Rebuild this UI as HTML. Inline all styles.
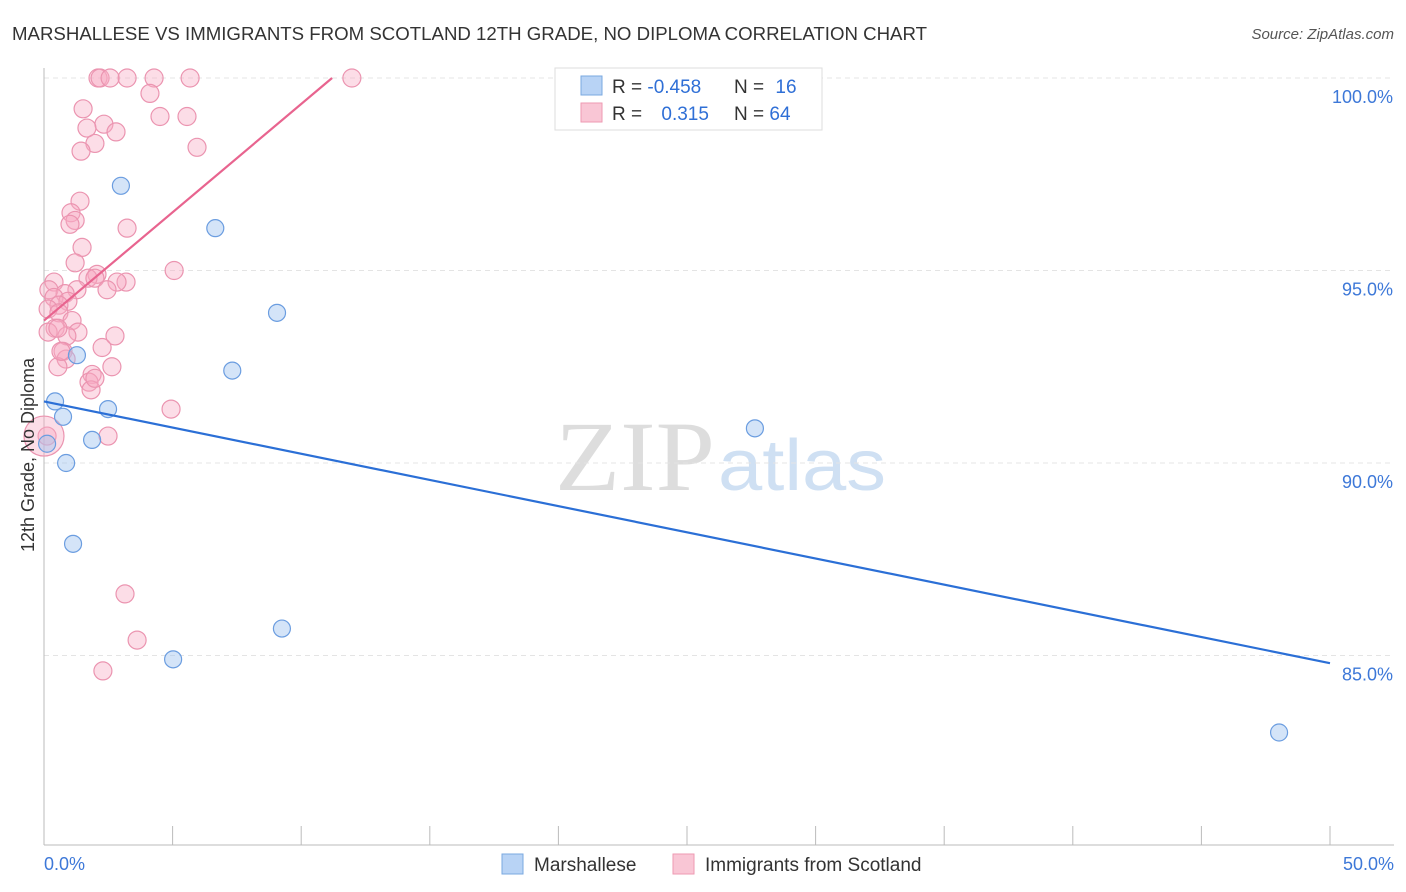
<!DOCTYPE html>
<html><head><meta charset="utf-8">
<style>
body{margin:0;background:#fff;font-family:"Liberation Sans",sans-serif;}
svg{display:block}
</style></head>
<body>
<svg id="c" width="1406" height="892">
<text x="12" y="40" font-size="18.5" fill="#333" textLength="915" lengthAdjust="spacingAndGlyphs">MARSHALLESE VS IMMIGRANTS FROM SCOTLAND 12TH GRADE, NO DIPLOMA CORRELATION CHART</text>
<text x="1394" y="39" font-size="15" fill="#555" font-style="italic" text-anchor="end">Source: ZipAtlas.com</text>
<g>
<text x="555" y="490" font-size="100" fill="#ddd" font-family="Liberation Serif" textLength="160" lengthAdjust="spacingAndGlyphs">ZIP</text>
<text x="718" y="490" font-size="72" fill="#cfe0f3" textLength="168" lengthAdjust="spacingAndGlyphs">atlas</text>
</g>
<g id="grid"></g><g id="axes"></g><g id="pts"></g><g id="lines"></g>
<text x="34" y="455" font-size="18" fill="#333" text-anchor="middle" transform="rotate(-90 34 455)">12th Grade, No Diploma</text>
<g>
<rect x="555" y="68" width="267" height="62" fill="#fff" stroke="#ddd"/>
<rect x="581" y="76" width="21" height="19" fill="#b8d3f5" stroke="#7aa8e0"/>
<rect x="581" y="103" width="21" height="19" fill="#f9c6d5" stroke="#ee9ab2"/>
<text x="612" y="93" font-size="19" fill="#333">R = <tspan fill="#2f6fd6">-0.458</tspan></text>
<text x="734" y="93" font-size="19" fill="#333">N = <tspan fill="#2f6fd6" dx="6">16</tspan></text>
<text x="612" y="120" font-size="19" fill="#333">R = <tspan fill="#2f6fd6" dx="14">0.315</tspan></text>
<text x="734" y="120" font-size="19" fill="#333">N = <tspan fill="#2f6fd6">64</tspan></text>
</g>
<g>
<rect x="502" y="854" width="21" height="20" fill="#b8d3f5" stroke="#7aa8e0"/>
<text x="534" y="871" font-size="19" fill="#333">Marshallese</text>
<rect x="673" y="854" width="21" height="20" fill="#f9c6d5" stroke="#ee9ab2"/>
<text x="705" y="871" font-size="19" fill="#333">Immigrants from Scotland</text>
</g>
</svg>
<script>
const yTicks=[100,95,90,85];
const xTickLabels=["0.0%","50.0%"];
const blueX=[0.12,0.43,0.74,0.86,1.13,1.28,1.87,2.49,2.99,5.02,6.66,7.32,9.06,9.25,27.64,48.02];
const blueY=[90.5,91.6,91.2,90.0,87.9,92.8,90.6,91.4,97.2,84.9,96.1,92.4,93.9,85.7,90.9,83.0];
const pinkX=[2.10,2.18,3.23,2.57,4.28,5.68,11.97,4.12,1.52,4.51,5.56,2.33,1.67,2.80,1.98,1.44,5.95,1.40,1.05,1.21,1.01,3.23,1.48,1.21,5.06,2.06,1.71,1.98,3.19,2.84,0.39,0.19,2.45,1.28,0.82,0.39,0.93,0.58,0.16,0.58,1.09,0.43,1.32,0.16,2.76,0.89,2.26,0.74,0.86,2.64,0.54,1.87,1.75,1.83,4.94,2.49,0.12,3.15,3.62,2.29,0.0,0.54,1.98,0.66];
const pinkY=[100,100,100,100,100,100,100,99.6,99.2,99.0,99.0,98.8,98.7,98.6,98.3,98.1,98.2,96.8,96.5,96.3,96.2,96.1,95.6,95.2,95.0,94.9,94.8,94.8,94.7,94.7,94.7,94.5,94.5,94.5,94.4,94.3,94.2,94.1,94.0,93.9,93.7,93.5,93.4,93.4,93.3,93.3,93.0,92.9,92.7,92.5,92.5,92.3,92.1,91.9,91.4,90.7,90.7,86.6,85.4,84.6,90.7,93.5,92.2,92.9];
const pinkR=pinkX.map((_,i)=>i==60?20:9);
const blueLine=[[0,91.6],[50,84.8]];
const pinkLine=[[0,93.7],[11.2,100]];
const X=v=>44+v/50*1286, Y=v=>78+(100-v)*38.5;
const NS="http://www.w3.org/2000/svg";
function mk(t,a,p){const e=document.createElementNS(NS,t);for(const k in a)e.setAttribute(k,a[k]);p.appendChild(e);return e;}
const g=document.getElementById('grid'),ax=document.getElementById('axes'),pts=document.getElementById('pts'),ln=document.getElementById('lines');
yTicks.forEach(t=>{const l=mk('line',{x1:44,x2:1394,y1:Y(t),y2:Y(t),stroke:'#e4e4e4','stroke-dasharray':'5,4'},g);


const tx=mk('text',{x:1393,y:Y(t)+25,'font-size':18,fill:'#3d78d8','text-anchor':'end'},ax);tx.textContent=t.toFixed(1)+'%';

});
mk('line',{x1:44,x2:44,y1:68,y2:845,stroke:'#bbb'},ax);
mk('line',{x1:44,x2:1394,y1:845,y2:845,stroke:'#bbb'},ax);
for(let i=0;i<=10;i++){mk('line',{x1:X(i*5),x2:X(i*5),y1:826,y2:845,stroke:'#bbb'},ax);}
[[0,'start'],[50,'end']].forEach((p,i)=>{const t=mk('text',{x:i?1394:44,y:870,'font-size':18,fill:'#3d78d8','text-anchor':p[1]},ax);t.textContent=xTickLabels[i];

});
pinkX.forEach((v,i)=>{const c=mk('circle',{cx:X(v),cy:Y(pinkY[i]),r:pinkR[i],fill:'rgba(247,170,195,0.4)',stroke:'#eb94b0','stroke-width':1.2},pts);

});
blueX.forEach((v,i)=>{const c=mk('circle',{cx:X(v),cy:Y(blueY[i]),r:8.5,fill:'rgba(160,195,240,0.45)',stroke:'#6b9de0','stroke-width':1.2},pts);

});
const bl=mk('line',{x1:X(blueLine[0][0]),y1:Y(blueLine[0][1]),x2:X(blueLine[1][0]),y2:Y(blueLine[1][1]),stroke:'#2b6fd6','stroke-width':2.2},ln);


const pl=mk('line',{x1:X(pinkLine[0][0]),y1:Y(pinkLine[0][1]),x2:X(pinkLine[1][0]),y2:Y(pinkLine[1][1]),stroke:'#e8648f','stroke-width':2.2},ln);


</script>
</body></html>
